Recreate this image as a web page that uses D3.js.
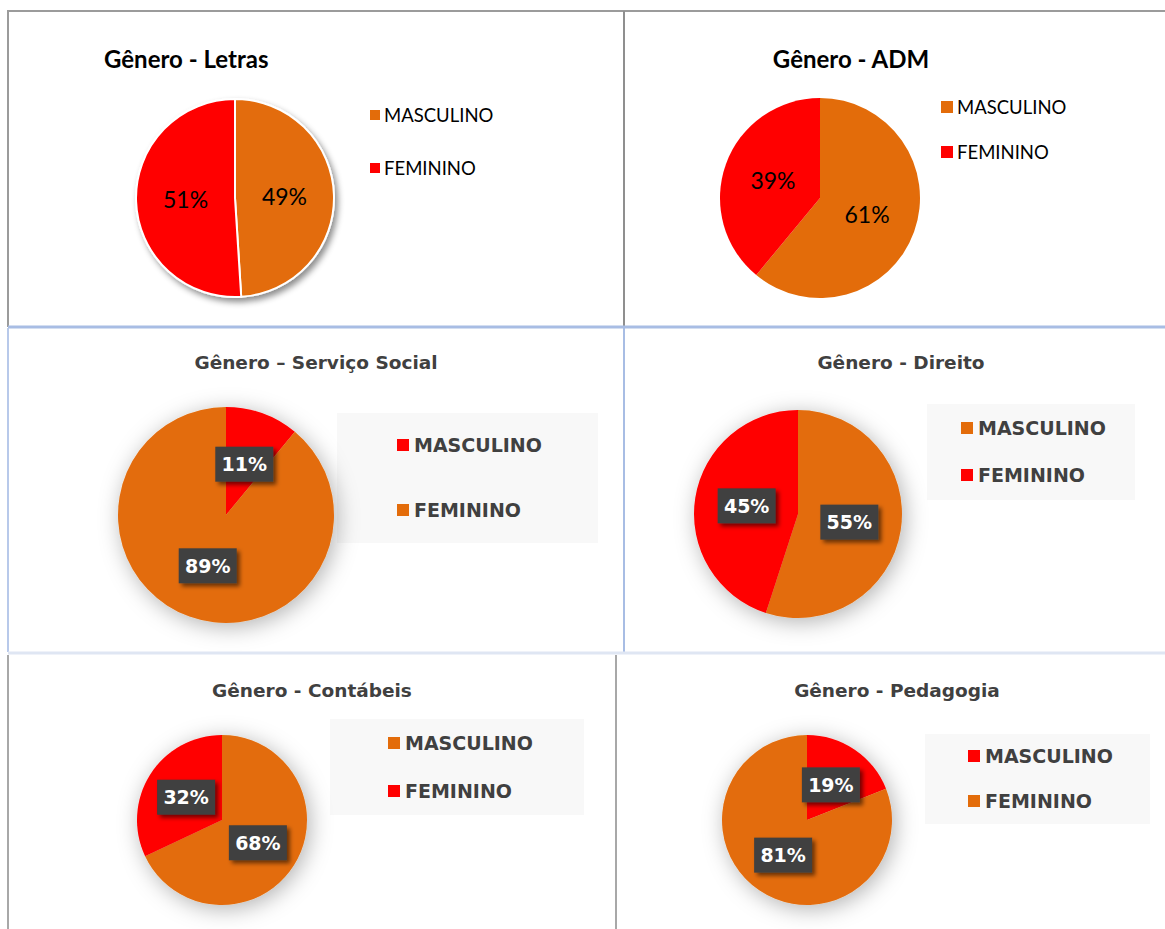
<!DOCTYPE html>
<html>
<head>
<meta charset="utf-8">
<script src="https://cdn.jsdelivr.net/npm/d3@7"></script>
<style>
  body { margin: 0; background: #fff; }
</style>
</head>
<body>
<div id="chart"></div>
<script>
// values
var titles = ["Gênero - Letras", "Gênero - ADM", "Gênero – Serviço Social", "Gênero - Direito", "Gênero - Contábeis", "Gênero - Pedagogia"];
var categories = ["MASCULINO", "FEMININO"];
var masculino = [49, 61, 11, 55, 68, 19];
var feminino = [51, 39, 89, 45, 32, 81];

var orange = "#e36c0a", red = "#ff0000";

// where each panel sits on the page
var panels = [
    {style: "plain", cx: 235, cy: 198, r: 99, tx: 104, ty: 68, anchor: "start", lx: 370, ly: [115, 168], sq: 10, colors: [orange, red], outline: true},
    {style: "plain", cx: 820, cy: 198, r: 100, tx: 851, ty: 68, anchor: "middle", lx: 941, ly: [107, 152], sq: 12, colors: [orange, red]},
    {style: "boxed", cx: 226, cy: 515, r: 108, tx: 316, ty: 369, lx: 397, ly: [445, 510], box: [337, 413, 261, 130], colors: [red, orange]},
    {style: "boxed", cx: 798, cy: 514, r: 104, tx: 901, ty: 369, lx: 961, ly: [428, 475], box: [927, 404, 208, 96], colors: [orange, red]},
    {style: "boxed", cx: 222, cy: 820, r: 85, tx: 312, ty: 697, lx: 388, ly: [743, 791], box: [330, 719, 254, 96], colors: [orange, red]},
    {style: "boxed", cx: 807, cy: 820, r: 85, tx: 897, ty: 697, lx: 968, ly: [756, 801], box: [925, 734, 225, 90], colors: [red, orange]}
];

var W = 1165, H = 929;
var plainFont = "Lato, 'Open Sans', sans-serif";
var boxFont = "'DejaVu Sans', sans-serif";

var svg = d3.select("#chart")
    .append("svg")
    .attr("width", W)
    .attr("height", H);

var defs = svg.append("defs");

function shadow(id, dx, dy, blur, color, op) {
    var f = defs.append("filter").attr("id", id)
        .attr("x", "-40%").attr("y", "-40%").attr("width", "180%").attr("height", "180%");
    f.append("feDropShadow")
        .attr("dx", dx).attr("dy", dy)
        .attr("stdDeviation", blur)
        .attr("flood-color", color)
        .attr("flood-opacity", op);
}
shadow("softShadow", 3, 4, 11, "#000", 0.3);
shadow("letrasShadow", 3, 4, 3, "#000", 0.45);
shadow("boxShadow", 3, 3, 2, "#000", 0.55);

// table borders
var borders = svg.append("g");
function line(x1, y1, x2, y2, color, w) {
    borders.append("line")
        .attr("x1", x1).attr("y1", y1).attr("x2", x2).attr("y2", y2)
        .style("stroke", color).style("stroke-width", w);
}
line(7, 11, W, 11, "#9b9b9b", 2);
line(8, 11, 8, 327, "#9b9b9b", 2);
line(624, 11, 624, 326, "#8f8f8f", 2);
line(8, 327, W, 327, "#a8bde4", 3);
line(8, 328, 8, 652, "#b8c9ea", 2);
line(624, 328, 624, 652, "#a8bde4", 2);
line(8, 653, W, 653, "#dfe6f3", 3);
line(8, 655, 8, H, "#a8a8a8", 2);
line(616, 655, 616, H, "#a8a8a8", 2);

var pie = d3.pie().sort(null).value(function (d) { return d.value; });

panels.forEach(function (p, i) {
    var data = [
        {name: categories[0], value: masculino[i], color: p.colors[0]},
        {name: categories[1], value: feminino[i], color: p.colors[1]}
    ];
    var g = svg.append("g");
    var arc = d3.arc().innerRadius(0).outerRadius(p.r);
    var boxed = p.style === "boxed";

    // title
    g.append("text")
        .attr("x", p.tx)
        .attr("y", p.ty)
        .attr("text-anchor", boxed ? "middle" : p.anchor)
        .style("font-family", boxed ? boxFont : plainFont)
        .style("font-weight", "bold")
        .style("font-size", boxed ? "18.5px" : "24px")
        .style("fill", boxed ? "#404040" : "#000")
        .text(titles[i]);

    // legend
    if (boxed) {
        g.append("rect")
            .attr("x", p.box[0]).attr("y", p.box[1])
            .attr("width", p.box[2]).attr("height", p.box[3])
            .style("fill", "#f8f8f8");
    }
    var sq = boxed ? 12 : p.sq;
    data.forEach(function (d, j) {
        g.append("rect")
            .attr("x", p.lx)
            .attr("y", p.ly[j] - sq / 2)
            .attr("width", sq).attr("height", sq)
            .style("fill", d.color);
        g.append("text")
            .attr("x", p.lx + sq + (boxed ? 5 : 4))
            .attr("y", p.ly[j])
            .attr("dy", "0.36em")
            .style("font-family", boxed ? boxFont : plainFont)
            .style("font-weight", boxed ? "bold" : "normal")
            .style("font-size", boxed ? "19px" : "18.5px")
            .style("fill", boxed ? "#404040" : "#000")
            .text(d.name);
    });

    // slices
    var pg = g.append("g")
        .attr("transform", "translate(" + p.cx + "," + p.cy + ")");
    var slices = pg.append("g");
    if (boxed) slices.attr("filter", "url(#softShadow)");
    if (p.outline) slices.attr("filter", "url(#letrasShadow)");
    slices.selectAll("path")
        .data(pie(data))
        .enter()
        .append("path")
        .attr("d", arc)
        .style("fill", function (d) { return d.data.color; })
        .style("stroke", p.outline ? "#fff" : "none")
        .style("stroke-width", p.outline ? 2 : 0);

    // percentage labels
    pie(data).forEach(function (d) {
        var c = arc.centroid(d);
        var label = d.data.value + "%";
        if (boxed) {
            pg.append("rect")
                .attr("x", c[0] - 29).attr("y", c[1] - 17.5)
                .attr("width", 58).attr("height", 35)
                .attr("filter", "url(#boxShadow)")
                .style("fill", "#404040");
            pg.append("text")
                .attr("x", c[0]).attr("y", c[1])
                .attr("dy", "0.36em")
                .attr("text-anchor", "middle")
                .style("font-family", boxFont)
                .style("font-weight", "bold")
                .style("font-size", "19px")
                .style("fill", "#fff")
                .text(label);
        } else {
            pg.append("text")
                .attr("x", c[0]).attr("y", c[1])
                .attr("dy", "0.36em")
                .attr("text-anchor", "middle")
                .style("font-family", plainFont)
                .style("font-size", "23px")
                .style("fill", "#000")
                .text(label);
        }
    });
});
</script>
</body>
</html>
